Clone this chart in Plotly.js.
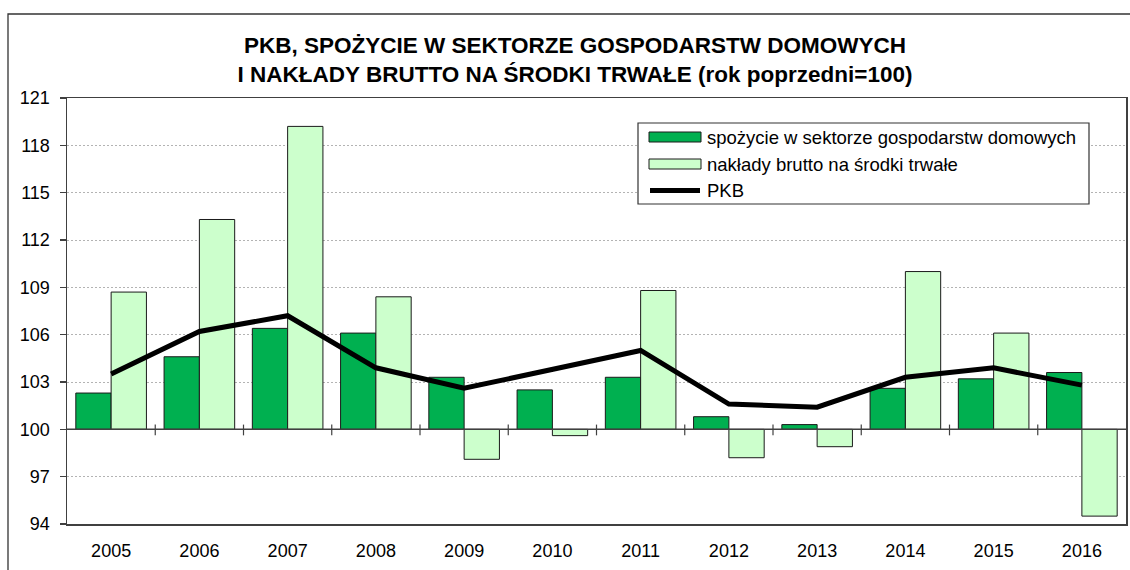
<!DOCTYPE html>
<html>
<head>
<meta charset="utf-8">
<script src="https://cdn.plot.ly/plotly-3.0.1.min.js"></script>
<style>html,body{margin:0;padding:0;background:#fff;}#chart{width:1130px;height:570px;}</style>
</head>
<body>
<div id="chart"></div>
<script>
// ---- data ----
const years = ['2005','2006','2007','2008','2009','2010','2011','2012','2013','2014','2015','2016'];
const spozycie = [102.3, 104.6, 106.4, 106.1, 103.3, 102.5, 103.3, 100.8, 100.3, 102.6, 103.2, 103.6];
const naklady  = [108.7, 113.3, 119.2, 108.4, 98.1, 99.6, 108.8, 98.2, 98.9, 110.0, 106.1, 94.5];
const pkb      = [103.5, 106.2, 107.2, 103.9, 102.6, 103.8, 105.0, 101.6, 101.4, 103.3, 103.9, 102.8];
const seriesNames = ['spożycie w sektorze gospodarstw domowych', 'nakłady brutto na środki trwałe', 'PKB'];
const yTicks = [94, 97, 100, 103, 106, 109, 112, 115, 118, 121];
const baseValue = 100;
const titleLines = ['PKB, SPOŻYCIE W SEKTORZE GOSPODARSTW DOMOWYCH', 'I NAKŁADY BRUTTO NA ŚRODKI TRWAŁE (rok poprzedni=100)'];

// ---- layout helpers ----
const FONT = 'Liberation Sans, Arial, sans-serif';
const W = 1130, H = 570;
const M = {l: 67, r: 4, t: 98, b: 46};
const PW = W - M.l - M.r, PH = H - M.t - M.b;
const px = x => (x - M.l) / PW;
const py = y => (M.t + PH - y) / PH;

const darkGreen = '#00B050', lightGreen = '#CCFFCC';

const traces = [
  {type: 'bar', name: seriesNames[0], x: years, y: spozycie.map(v => v - baseValue), base: baseValue,
   marker: {color: darkGreen, line: {color: '#1a1a1a', width: 1}}, showlegend: false, hoverinfo: 'skip'},
  {type: 'bar', name: seriesNames[1], x: years, y: naklady.map(v => v - baseValue), base: baseValue,
   marker: {color: lightGreen, line: {color: '#1a1a1a', width: 1}}, showlegend: false, hoverinfo: 'skip'},
  {type: 'scatter', mode: 'lines', name: seriesNames[2], x: years, y: pkb,
   line: {color: '#000', width: 5}, showlegend: false, hoverinfo: 'skip'}
];

const shapes = [];
// outer chart border
shapes.push({type: 'rect', xref: 'paper', yref: 'paper', x0: px(8), x1: px(1145), y0: py(590), y1: py(14),
  line: {color: '#333', width: 1.3}, fillcolor: 'rgba(0,0,0,0)'});
// baseline at 100
shapes.push({type: 'line', xref: 'paper', yref: 'y', x0: 0, x1: 1, y0: baseValue, y1: baseValue,
  line: {color: '#404040', width: 1.5}, layer: 'above'});
// category boundary ticks on baseline
for (let i = 0; i < years.length - 1; i++) {
  shapes.push({type: 'line', xref: 'x', yref: 'y', x0: i + 0.5, x1: i + 0.5, y0: baseValue - 0.38, y1: baseValue + 0.3,
    line: {color: '#404040', width: 1.2}, layer: 'above'});
}
// custom legend box
shapes.push({type: 'rect', xref: 'paper', yref: 'paper', x0: px(638), x1: px(1089), y0: py(204), y1: py(123),
  line: {color: '#333', width: 1.2}, fillcolor: '#fff', layer: 'above'});
const rows = [137, 164, 190.5];
shapes.push({type: 'rect', xref: 'paper', yref: 'paper', x0: px(649), x1: px(701), y0: py(rows[0] + 5), y1: py(rows[0] - 5),
  line: {color: '#1a1a1a', width: 1}, fillcolor: darkGreen, layer: 'above'});
shapes.push({type: 'rect', xref: 'paper', yref: 'paper', x0: px(649), x1: px(701), y0: py(rows[1] + 5), y1: py(rows[1] - 5),
  line: {color: '#1a1a1a', width: 1}, fillcolor: lightGreen, layer: 'above'});
shapes.push({type: 'line', xref: 'paper', yref: 'paper', x0: px(650), x1: px(700), y0: py(rows[2]), y1: py(rows[2]),
  line: {color: '#000', width: 5}, layer: 'above'});

const annotations = seriesNames.map((n, i) => ({
  xref: 'paper', yref: 'paper', x: px(705), y: py(rows[i]), xanchor: 'left', yanchor: 'middle',
  text: n, showarrow: false, font: {family: FONT, size: 18.5, color: '#000'}
}));

const layout = {
  width: W, height: H,
  margin: M,
  paper_bgcolor: '#fff', plot_bgcolor: '#fff',
  font: {family: FONT, size: 18, color: '#000'},
  title: {
    text: '<b>' + titleLines[0] + '<br>' + titleLines[1] + '</b>',
    font: {family: FONT, size: 22.5, color: '#000'},
    xref: 'paper', x: px(575), xanchor: 'center',
    yref: 'container', y: 1 - 53 / H, yanchor: 'top'
  },
  barmode: 'group', bargap: 0.2, bargroupgap: 0,
  xaxis: {
    type: 'category', range: [-0.5, years.length - 0.5],
    showline: true, mirror: true, linecolor: '#404040', linewidth: 1.5,
    showgrid: false, ticks: '', zeroline: false,
    tickfont: {family: FONT, size: 18, color: '#000'}, ticklabelstandoff: 10
  },
  yaxis: {
    range: [94, 121], tickvals: yTicks, ticktext: yTicks.map(String),
    showline: true, mirror: true, linecolor: '#404040', linewidth: 1.5,
    ticks: 'outside', ticklen: 6, tickcolor: '#404040', tickwidth: 1.2,
    showgrid: true, gridcolor: '#b3b3b3', gridwidth: 1, griddash: '2px,2px',
    zeroline: false, tickfont: {family: FONT, size: 18, color: '#000'}, ticklabelstandoff: 6
  },
  shapes: shapes,
  annotations: annotations,
  showlegend: false
};

Plotly.newPlot('chart', traces, layout, {staticPlot: true, displayModeBar: false});
</script>
</body>
</html>
